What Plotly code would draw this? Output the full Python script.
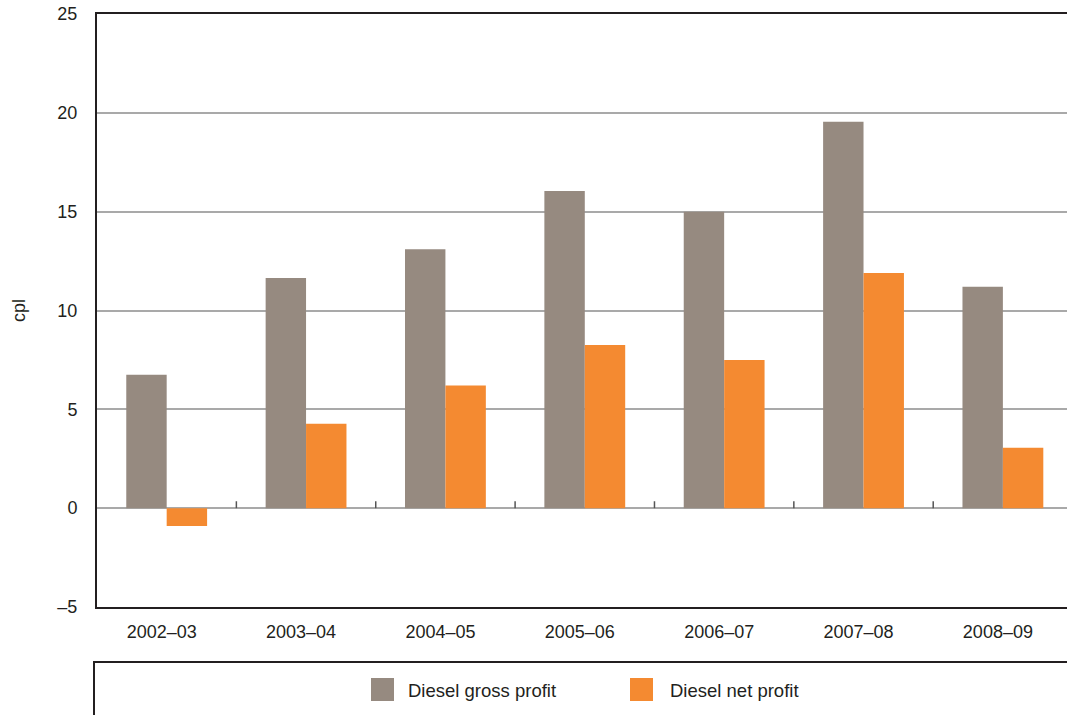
import plotly.graph_objects as go

categories = ["2002–03", "2003–04", "2004–05", "2005–06", "2006–07", "2007–08", "2008–09"]
gross_profit = [6.75, 11.65, 13.1, 16.05, 15.0, 19.55, 11.2]
net_profit = [-0.9, 4.27, 6.2, 8.26, 7.5, 11.9, 3.06]
series_names = ["Diesel gross profit", "Diesel net profit"]
y_ticks = [-5, 0, 5, 10, 15, 20, 25]
y_tick_text = ["–5", "0", "5", "10", "15", "20", "25"]

GRAY = "#968a80"
ORANGE = "#f48a31"
DARK = "#231f20"
GRID = "#a9a9a9"
FONT = "Liberation Sans, Arial, sans-serif"

W, H = 1067, 715
L, T, B = 97, 14, 108
plot_w = W - L
plot_h = H - T - B

def px_x(x):
    return (x - L) / plot_w

def px_y(y):
    return (H - B - y) / plot_h

fig = go.Figure()
fig.add_trace(go.Bar(x=categories, y=gross_profit, name=series_names[0],
                     marker=dict(color=GRAY, line=dict(width=0)), showlegend=False))
fig.add_trace(go.Bar(x=categories, y=net_profit, name=series_names[1],
                     marker=dict(color=ORANGE, line=dict(width=0)), showlegend=False))

shapes = []
# small boundary ticks on the zero line
for i in range(len(categories)):
    shapes.append(dict(type="line", xref="x", yref="y", x0=i + 0.5, x1=i + 0.5,
                       y0=0, y1=0.35, line=dict(color="#555555", width=1.5), layer="above"))
# legend box
shapes.append(dict(type="rect", xref="paper", yref="paper",
                   x0=px_x(94), x1=1.1, y0=px_y(662), y1=-0.4,
                   line=dict(color=DARK, width=2), fillcolor="rgba(0,0,0,0)"))
# legend swatches
for (x0, color) in [(371, GRAY), (630, ORANGE)]:
    shapes.append(dict(type="rect", xref="paper", yref="paper",
                       x0=px_x(x0), x1=px_x(x0 + 23), y0=px_y(701), y1=px_y(678),
                       line=dict(width=0), fillcolor=color))

annotations = []
for (x0, name) in [(406, series_names[0]), (668, series_names[1])]:
    annotations.append(dict(xref="paper", yref="paper", x=px_x(x0), y=px_y(690),
                            xanchor="left", yanchor="middle", showarrow=False,
                            text=name, font=dict(family=FONT, size=18.5, color=DARK)))

fig.update_layout(
    width=W, height=H,
    margin=dict(l=L, r=0, t=T, b=B),
    paper_bgcolor="white", plot_bgcolor="white",
    barmode="group", bargap=0.42, bargroupgap=0,
    font=dict(family=FONT, size=18, color=DARK),
    shapes=shapes, annotations=annotations,
    showlegend=False,
    xaxis=dict(range=[-0.5, 6.46], showline=True, linecolor=DARK, linewidth=2,
               mirror=True, showgrid=False, ticks="", ticklabelstandoff=7,
               ticklabelshift=-5,
               tickfont=dict(family=FONT, size=18, color=DARK)),
    yaxis=dict(range=[-5, 25], tickvals=y_ticks, ticktext=y_tick_text,
               showline=True, linecolor=DARK, linewidth=2, mirror=False,
               showgrid=True, gridcolor=GRID, gridwidth=1.5,
               zeroline=True, zerolinecolor=GRID, zerolinewidth=1.5,
               ticks="", ticklabelstandoff=14,
               tickfont=dict(family=FONT, size=18, color=DARK),
               title=dict(text="cpl", standoff=27, font=dict(family=FONT, size=18, color=DARK))),
)

fig.write_html("out.html", config={"displayModeBar": False},
               post_script="document.body.style.margin='0';document.body.style.overflow='hidden';")
